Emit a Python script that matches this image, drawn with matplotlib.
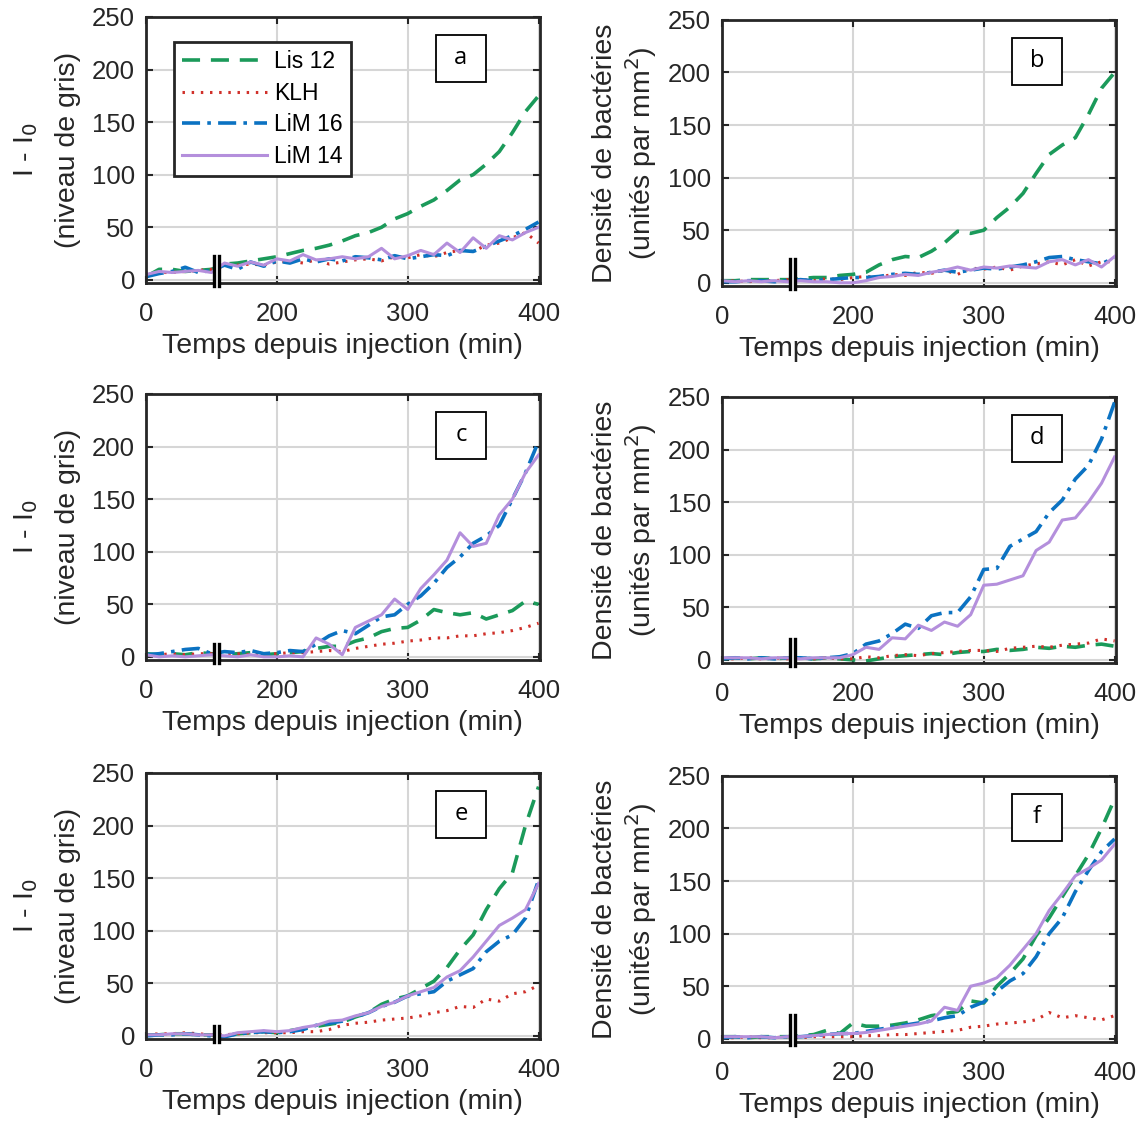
import matplotlib
matplotlib.use("Agg")
import matplotlib.pyplot as plt
import matplotlib.transforms as mtransforms
from matplotlib.patches import Rectangle
import numpy as np

plt.rcParams['font.family'] = ['Liberation Sans', 'DejaVu Sans']

# axis position of each sample (the axis is broken: "0" sits at 100)
t = [100, 110, 120, 130, 140, 150, 160, 170, 180, 190, 200, 210, 220, 230, 240, 250,
     260, 270, 280, 290, 300, 310, 320, 330, 340, 350, 360, 370, 380, 390, 400]

series_names = ['Lis 12', 'KLH', 'LiM 16', 'LiM 14']

# panel a
a_lis = [3, 10, 10, 8, 9, 10, 15, 16, 18, 20, 22, 25, 28, 30, 33, 37, 42, 45, 50, 58, 63, 70, 76, 85, 95, 100, 110, 122, 140, 160, 175]
a_klh = [5, 7, 7, 8, 9, 10, 13, 14, 15, 14, 17, 18, 16, 19, 15, 17, 19, 20, 18, 22, 21, 24, 22, 26, 28, 27, 33, 35, 40, 45, 35]
a_l16 = [3, 6, 8, 12, 7, 9, 14, 10, 17, 13, 18, 16, 20, 17, 20, 18, 22, 21, 19, 23, 20, 22, 24, 23, 28, 27, 32, 37, 42, 48, 55]
a_l14 = [5, 8, 7, 8, 9, 7, 16, 13, 17, 14, 20, 18, 24, 19, 20, 22, 20, 22, 30, 20, 23, 28, 24, 35, 26, 40, 30, 42, 38, 45, 50]
# panel b
b_lis = [2, 2, 3, 3, 3, 3, 4, 5, 5, 7, 8, 10, 17, 22, 25, 24, 30, 38, 49, 47, 50, 62, 72, 85, 104, 122, 131, 138, 160, 185, 200]
b_klh = [1, 2, 1, 2, 2, 3, 3, 2, 4, 3, 5, 6, 5, 8, 7, 10, 9, 12, 8, 14, 13, 15, 12, 16, 18, 20, 17, 22, 16, 20, 20]
b_l16 = [1, 1, 2, 2, 1, 2, 3, 2, 3, 4, 5, 5, 6, 8, 9, 8, 10, 12, 10, 12, 14, 13, 15, 17, 20, 24, 25, 22, 20, 18, 24]
b_l14 = [2, 1, 2, 1, 2, 1, 2, 1, 1, 0, 0, 2, 5, 6, 8, 7, 10, 12, 15, 12, 15, 14, 16, 15, 14, 20, 22, 17, 22, 15, 25]
# panel c
c_lis = [3, 2, 3, 2, 4, 3, 2, 3, 4, 2, 3, 4, 5, 8, 10, 10, 15, 18, 24, 27, 28, 35, 45, 42, 40, 42, 36, 40, 44, 53, 50]
c_klh = [2, 2, 3, 2, 3, 3, 2, 3, 2, 3, 3, 4, 4, 5, 6, 5, 8, 10, 12, 13, 15, 16, 18, 18, 20, 20, 22, 23, 25, 28, 32]
c_l16 = [2, 3, 5, 7, 8, 3, 5, 4, 6, 3, 4, 6, 5, 12, 20, 25, 22, 30, 38, 40, 50, 58, 70, 85, 95, 108, 115, 125, 150, 175, 205]
c_l14 = [2, 0, 1, 0, 1, 2, 1, 0, 2, 0, 0, 1, 0, 18, 12, 2, 28, 34, 40, 55, 45, 65, 78, 92, 118, 105, 108, 135, 150, 175, 192]
# panel d
d_lis = [1, 2, 1, 2, 1, 2, 2, 1, 2, 1, 0, -1, 1, 3, 4, 5, 6, 5, 7, 8, 8, 10, 9, 10, 12, 11, 13, 12, 14, 15, 13]
d_klh = [1, 1, 2, 1, 2, 1, 2, 1, 2, 1, 1, 3, 2, 4, 5, 4, 6, 7, 8, 9, 9, 8, 11, 12, 13, 12, 14, 15, 16, 20, 18]
d_l16 = [1, 2, 1, 2, 1, 2, 2, 1, 2, 3, 6, 15, 18, 25, 34, 30, 42, 45, 45, 60, 86, 87, 108, 115, 122, 140, 152, 172, 185, 210, 245]
d_l14 = [2, 2, 2, 1, 2, 2, 1, 2, 2, 2, 5, 12, 10, 21, 20, 33, 28, 36, 32, 43, 71, 72, 76, 80, 104, 112, 133, 135, 150, 168, 193]
# panel e
e_lis = [1, 1, 2, 2, 1, 1, 0, 2, 3, 4, 3, 5, 7, 9, 11, 13, 18, 22, 30, 35, 38, 45, 52, 65, 82, 96, 120, 140, 155, 200, 237]
e_klh = [1, 2, 2, 3, 2, 1, 1, 2, 3, 3, 3, 3, 4, 4, 6, 10, 12, 13, 15, 16, 17, 19, 22, 24, 28, 27, 35, 33, 40, 42, 48]
e_l16 = [0, 1, 1, 2, 1, 0, -1, 2, 3, 4, 3, 4, 6, 10, 12, 14, 18, 22, 28, 32, 38, 40, 42, 52, 58, 64, 80, 90, 96, 112, 148]
e_l14 = [1, 1, 2, 2, 1, 1, 0, 3, 4, 5, 4, 5, 8, 10, 14, 15, 19, 22, 28, 32, 38, 42, 46, 56, 62, 75, 90, 105, 112, 120, 145]
# panel f
f_lis = [2, 2, 1, 2, 2, 2, 3, 4, 8, 5, 15, 12, 12, 13, 15, 18, 22, 24, 26, 36, 34, 50, 62, 76, 98, 115, 135, 155, 175, 200, 228]
f_klh = [1, 1, 2, 1, 1, 2, 1, 2, 2, 2, 2, 3, 3, 4, 4, 5, 6, 7, 8, 11, 12, 14, 15, 16, 18, 25, 20, 22, 20, 18, 22]
f_l16 = [1, 2, 1, 2, 1, 2, 2, 3, 4, 5, 5, 7, 9, 11, 13, 15, 17, 20, 22, 30, 35, 45, 55, 62, 78, 100, 115, 140, 160, 178, 190]
f_l14 = [2, 2, 2, 2, 1, 2, 2, 3, 4, 5, 5, 6, 8, 10, 12, 14, 17, 30, 27, 50, 53, 58, 70, 85, 100, 122, 138, 155, 162, 170, 185]

xticks = [100, 200, 300, 400]
xticklabels = ['0', '200', '300', '400']
yticks = [0, 50, 100, 150, 200, 250]

colors = ['#1b9a5a', '#d0302a', '#0b72c2', '#b48fdc']
styles = [dict(ls=(0, (5, 3)), lw=2.6),
          dict(ls=(0, (0.8, 2.2)), lw=2.2),
          dict(ls=(0, (5, 2, 1, 2)), lw=2.6),
          dict(ls='-', lw=2.2)]

panels = [
    ('a', [a_lis, a_klh, a_l16, a_l14], [0.1275, 0.7482], 0.11),
    ('b', [b_lis, b_klh, b_l16, b_l14], [0.6306, 0.7456], 0.11),
    ('c', [c_lis, c_klh, c_l16, c_l14], [0.1275, 0.4128], 0.07),
    ('d', [d_lis, d_klh, d_l16, d_l14], [0.6306, 0.4101], 0.10),
    ('e', [e_lis, e_klh, e_l16, e_l14], [0.1275, 0.0756], 0.06),
    ('f', [f_lis, f_klh, f_l16, f_l14], [0.6306, 0.0730], 0.11),
]

fig = plt.figure(figsize=(11.45, 11.24), dpi=100)

for i, (lab, data, pos, brk_h) in enumerate(panels):
    ax = fig.add_axes([pos[0], pos[1], 0.344, 0.2367])
    for ys, c, st, name in zip(data, colors, styles, series_names):
        ax.plot(t, ys, color=c, label=name, **st)
    ax.set_xlim(100, 401)
    ax.set_ylim(-3, 250)
    ax.set_xticks(xticks)
    ax.set_xticklabels(xticklabels)
    ax.set_yticks(yticks)
    ax.grid(True, color='#d6d6d6', lw=1.5)
    ax.set_axisbelow(True)
    ax.tick_params(direction='in', length=5, width=1.5, labelsize=18.5,
                   top=True, right=True, colors='#262626')
    ax.tick_params(axis='x', pad=14)
    ax.tick_params(axis='y', pad=8)
    for sp in ax.spines.values():
        sp.set_linewidth(2)
        sp.set_color('#262626')
    ax.set_xlabel('Temps depuis injection (min)', fontsize=20.5, color='#262626', labelpad=5)
    if i % 2 == 0:
        ax.set_ylabel('I - I$_0$\n(niveau de gris)', fontsize=20.5, color='#262626',
                      labelpad=8, linespacing=1.75)
    else:
        ax.set_ylabel('Densité de bactéries\n(unités par mm$^2$)', fontsize=20.5,
                      color='#262626', labelpad=6, linespacing=1.2)

    # break marker on the x axis
    tr = mtransforms.blended_transform_factory(ax.transData, ax.transAxes)
    ax.add_patch(Rectangle((152.2, -0.01), 3.4, brk_h, transform=tr, fc='white',
                           ec='none', zorder=5, clip_on=False))
    for xb in (152.2, 155.6):
        ax.plot([xb, xb], [-0.01, brk_h - 0.01], color='black', lw=2.4,
                transform=tr, zorder=6, clip_on=False)

    # panel letter in a fixed-size box
    ax.add_patch(Rectangle((0.737, 0.757), 0.125, 0.175, transform=ax.transAxes,
                           fc='white', ec='black', lw=1.3, zorder=7))
    ax.text(0.7995, 0.845, lab, transform=ax.transAxes, fontsize=17, ha='center',
            va='center', family=['Open Sans', 'DejaVu Sans'], zorder=8)

    if lab == 'a':
        leg = ax.legend(loc='upper left', bbox_to_anchor=(0.072, 0.906), borderaxespad=0,
                        fontsize=16.5, handlelength=3.7, handletextpad=0.3, borderpad=0.35,
                        labelspacing=0.38, fancybox=False, framealpha=1)
        leg.get_frame().set_edgecolor('#262626')
        leg.get_frame().set_linewidth(2)

fig.savefig('out.png', dpi=100)
